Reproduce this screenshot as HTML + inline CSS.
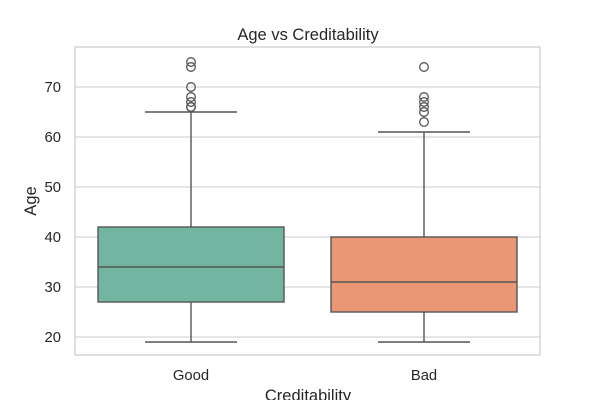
<!DOCTYPE html>
<html><head><meta charset="utf-8"><style>
body{margin:0;background:#fff;font-family:"Liberation Sans","DejaVu Sans",sans-serif}
</style></head><body>
<svg id="c" width="600" height="400" xmlns="http://www.w3.org/2000/svg"></svg>
<script>
const categories=["Good","Bad"];
const q1=[27,25];
const medians=[34,31];
const q3=[42,40];
const whiskLo=[19,19];
const whiskHi=[65,61];
const outliers=[[75,74,70,68,67,66,66],[74,68,67,66,65,63]];
const yTicks=[20,30,40,50,60,70];
const colors=["#72b6a1","#e99675"];
const svg=document.getElementById('c');
const NS="http://www.w3.org/2000/svg";
const L=75,R=540,T=47,B=355;
const y=v=>437-5*v;
const x=i=>191+i*233;
function mk(t,a,name,txt){const e=document.createElementNS(NS,t);for(const k in a)e.setAttribute(k,a[k]);


if(txt!==undefined)e.textContent=txt;svg.appendChild(e);return e;}
yTicks.forEach(v=>{mk('line',{x1:L,x2:R,y1:y(v),y2:y(v),stroke:'#cccccc','stroke-width':1},'y-gridline-'+v);
mk('text',{x:L-14,y:y(v)+5,'text-anchor':'end','font-size':14.8,fill:'#262626'},'y-tick-label-'+v,v);});
mk('rect',{x:L,y:T,width:R-L,height:B-T,fill:'none',stroke:'#cccccc','stroke-width':1.2},'plot-frame');
categories.forEach((c,i)=>{const cx=x(i),hw=93;
mk('line',{x1:cx,x2:cx,y1:y(q3[i]),y2:y(whiskHi[i]),stroke:'#555','stroke-width':1.4},'whisker-upper-'+c);
mk('line',{x1:cx,x2:cx,y1:y(q1[i]),y2:y(whiskLo[i]),stroke:'#555','stroke-width':1.4},'whisker-lower-'+c);
mk('line',{x1:cx-46,x2:cx+46,y1:y(whiskHi[i]),y2:y(whiskHi[i]),stroke:'#555','stroke-width':1.4},'cap-upper-'+c);
mk('line',{x1:cx-46,x2:cx+46,y1:y(whiskLo[i]),y2:y(whiskLo[i]),stroke:'#555','stroke-width':1.4},'cap-lower-'+c);
mk('rect',{x:cx-hw,y:y(q3[i]),width:2*hw,height:y(q1[i])-y(q3[i]),fill:colors[i],stroke:'#555','stroke-width':1.4},'box-'+c);
mk('line',{x1:cx-hw,x2:cx+hw,y1:y(medians[i]),y2:y(medians[i]),stroke:'#555','stroke-width':1.4},'median-'+c);
outliers[i].forEach((v,j)=>mk('circle',{cx:cx,cy:y(v),r:4.3,fill:'none',stroke:'#555','stroke-width':1.3},'outlier-'+c+'-'+j));
mk('text',{x:cx,y:380,'text-anchor':'middle','font-size':14.8,fill:'#262626'},'x-tick-label-'+c,c);});
mk('text',{x:308,y:40,'text-anchor':'middle','font-size':16.5,fill:'#262626'},'chart-title','Age vs Creditability');
mk('text',{x:308,y:401,'text-anchor':'middle','font-size':16.5,fill:'#262626'},'x-axis-title','Creditability');
mk('text',{x:36,y:201,'text-anchor':'middle','font-size':16.5,fill:'#262626',transform:'rotate(-90 36 201)'},'y-axis-title','Age');
</script>
</body></html>
